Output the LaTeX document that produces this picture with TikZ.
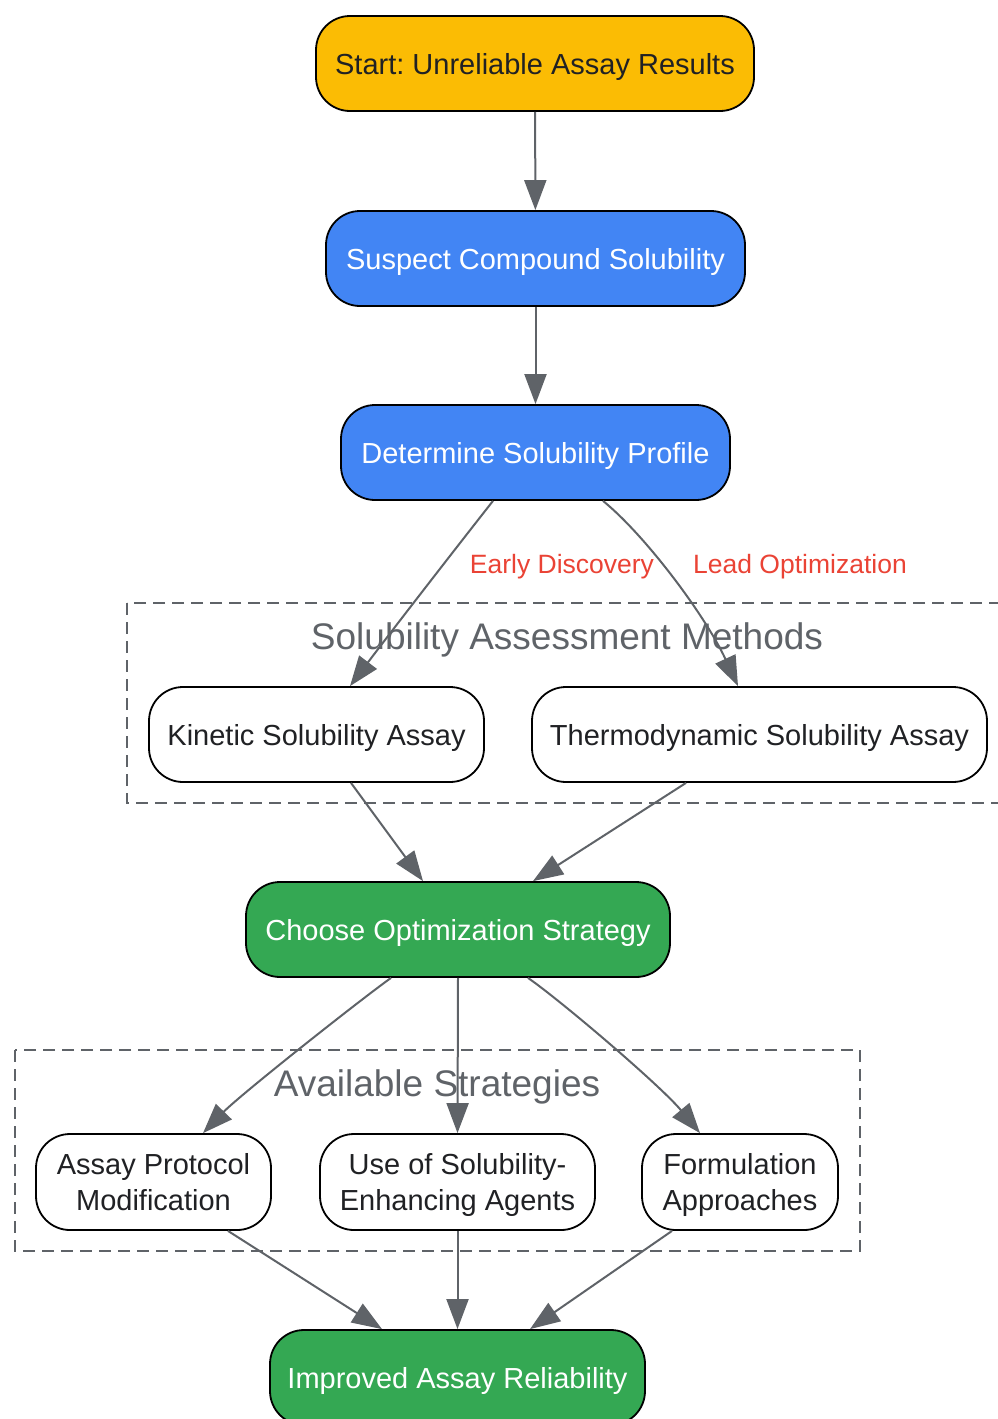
\documentclass[tikz,border=0pt]{standalone}
\usepackage{fontspec}
\setmainfont{Liberation Sans}
\usetikzlibrary{arrows.meta}
\frenchspacing
\definecolor{gyellow}{HTML}{FBBC04}
\definecolor{gblue}{HTML}{4285F4}
\definecolor{ggreen}{HTML}{34A853}
\definecolor{ggray}{HTML}{5F6368}
\definecolor{gred}{HTML}{EA4335}
\definecolor{gdark}{HTML}{202124}
\tikzset{
  box/.style={draw=black, line width=1.8pt, rounded corners=34pt, minimum height=95pt,
    inner sep=0pt, font=\fontsize{29}{36}\selectfont, align=center, text=gdark},
  oneline/.style={text height=27pt, text depth=6pt},
  twoline/.style={text depth=0pt, minimum height=96pt},
  filled/.style={text=white},
  edge/.style={draw=ggray, line width=2pt, -{Triangle[length=30pt,width=22pt]}},
  cluster/.style={draw=ggray, line width=2pt, dash pattern=on 12pt off 7pt},
  ctitle/.style={text=ggray, font=\fontsize{37}{40}\selectfont, inner sep=0pt},
  elabel/.style={text=gred, font=\fontsize{26.5}{30}\selectfont, inner sep=0pt}
}
\begin{document}
\begin{tikzpicture}[x=1pt,y=-1pt]
\useasboundingbox (0,0) rectangle (998,1419);
% clusters
\draw[cluster] (127,603) rectangle (1010,803);
\node[ctitle] (t1) at (567,640) {Solubility Assessment Methods};
\draw[cluster] (15,1050) rectangle (860,1251);
\node[ctitle] (t2) at (437,1087) {Available Strategies};
% nodes
\node[box, oneline, fill=gyellow, minimum width=438pt] (start) at (535,63.5) {Start: Unreliable Assay Results};
\node[box, oneline, fill=gblue, filled, minimum width=419pt] (suspect) at (535.5,258.5) {Suspect Compound Solubility};
\node[box, oneline, fill=gblue, filled, minimum width=389pt] (det) at (535.5,452.5) {Determine Solubility Profile};
\node[box, oneline, fill=white, minimum width=335pt] (kin) at (316.5,734.5) {Kinetic Solubility Assay};
\node[box, oneline, fill=white, minimum width=455pt] (thermo) at (759.5,734.5) {Thermodynamic Solubility Assay};
\node[box, oneline, fill=ggreen, filled, minimum width=424pt] (choose) at (458,929.5) {Choose Optimization Strategy};
\node[box, twoline, fill=white, minimum width=235pt] (apm) at (153.5,1182) {Assay Protocol\\Modification};
\node[box, twoline, fill=white, minimum width=275pt] (use) at (457.5,1182) {Use of Solubility-\\Enhancing Agents};
\node[box, twoline, fill=white, minimum width=196pt] (form) at (740,1182) {Formulation\\Approaches};
\node[box, oneline, fill=ggreen, filled, minimum width=375pt] (imp) at (457.5,1377.5) {Improved Assay Reliability};
% edges
\draw[edge] (start) -- (suspect);
\draw[edge] (suspect) -- (det);
\draw[edge] ([xshift=-42.5pt]det.south) .. controls (470,530) and (400,620) .. ([xshift=33.5pt]kin.north);
\draw[edge] ([xshift=67.5pt]det.south) .. controls (645,535) and (705,615) .. ([xshift=-21.5pt]thermo.north);
\node[elabel] (l1) at (562,567) {Early Discovery};
\node[elabel] (l2) at (800,567) {Lead Optimization};
\draw[edge] ([xshift=34.5pt]kin.south) -- ([xshift=-35pt]choose.north);
\draw[edge] ([xshift=-73.5pt]thermo.south) -- ([xshift=75pt]choose.north);
\draw[edge] ([xshift=-67pt]choose.south) .. controls (360,1000) and (240,1095) .. ([xshift=49.5pt]apm.north);
\draw[edge] (choose.south) -- (use.north);
\draw[edge] ([xshift=70pt]choose.south) .. controls (560,1000) and (660,1085) .. ([xshift=-40pt]form.north);
\draw[edge] ([xshift=74.5pt]apm.south) -- ([xshift=-75.5pt]imp.north);
\draw[edge] (use.south) -- (imp.north);
\draw[edge] ([xshift=-68pt]form.south) -- ([xshift=72.5pt]imp.north);
\end{tikzpicture}
\end{document}
